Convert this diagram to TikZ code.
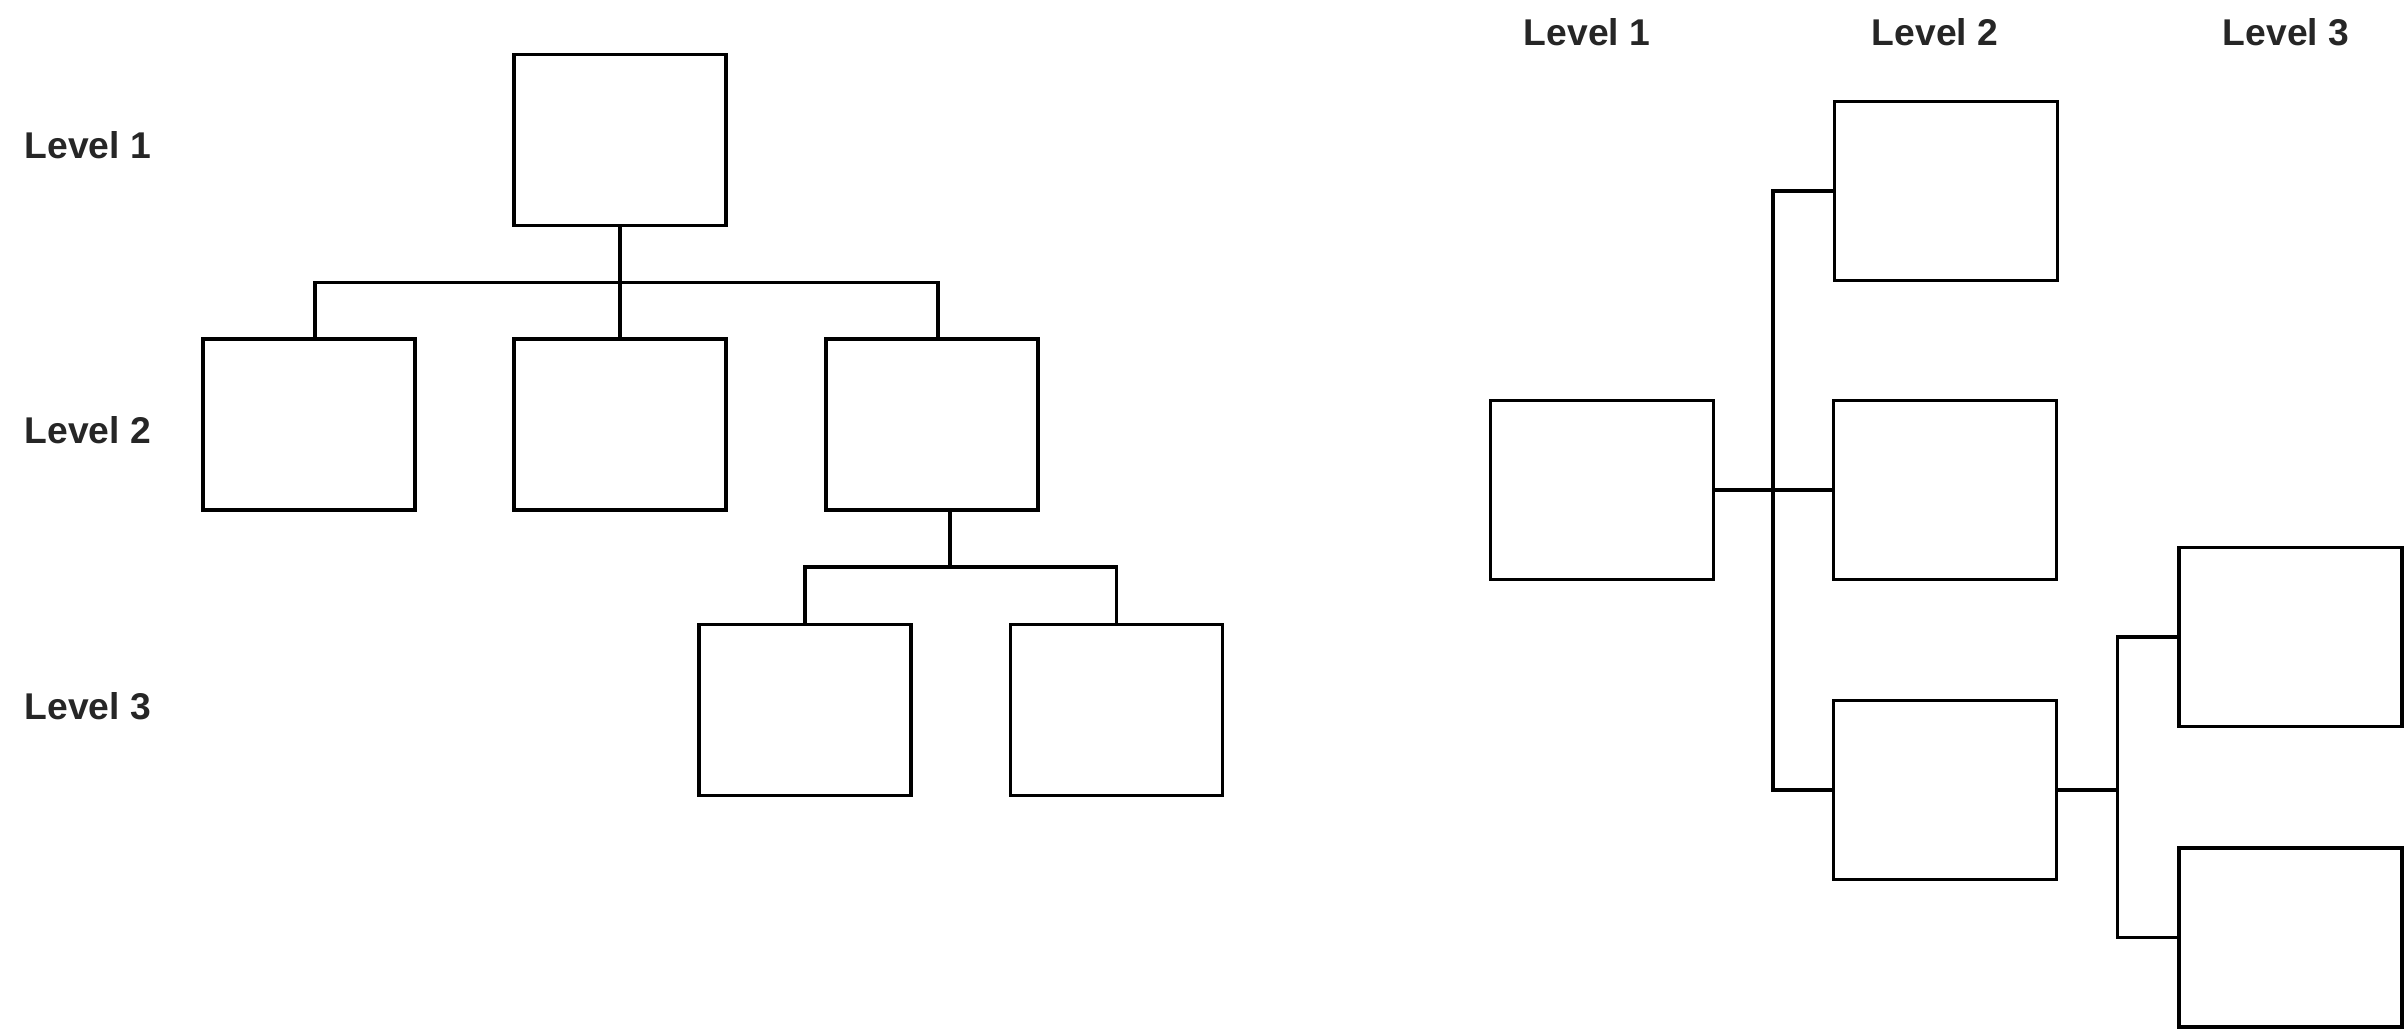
\documentclass[tikz,border=0pt]{standalone}
\usepackage{fontspec}
\setmainfont{Liberation Sans}
\begin{document}
\begin{tikzpicture}[
    box/.style={draw, line width=0.9pt, inner sep=0pt, outer sep=0pt, minimum width=2.12cm, minimum height=1.71cm},
    wbox/.style={box, minimum width=2.23cm, minimum height=1.79cm},
    lvl/.style={font=\fontsize{10.6}{13}\selectfont\bfseries, text=black!85, inner sep=0pt},
    link/.style={line width=0.9pt}
  ]
        \useasboundingbox (0,0) rectangle (24.05,-10.29);

        % vertical chart
        \node[lvl, anchor=west] (va) at (0.24,-1.45) {Level 1};
        \node[lvl, anchor=west] (vb) at (0.24,-4.30) {Level 2};
        \node[lvl, anchor=west] (vc) at (0.24,-7.06) {Level 3};

        \node[box] (top) at (6.20,-1.40) {};
        \node[box] (ma) at (3.09,-4.245) {};
        \node[box] (mb) at (6.20,-4.245) {};
        \node[box] (mc) at (9.32,-4.245) {};
        \node[box] (ba) at (8.05,-7.10) {};
        \node[box] (bb) at (11.165,-7.10) {};

        \draw[link] (top.south) -- +(0,-0.57) -| ([xshift=0.06cm]ma.north);
        \draw[link] (top.south) -- (mb.north);
        \draw[link] (top.south) -- +(0,-0.57) -| ([xshift=0.06cm]mc.north);
        \draw[link] ([xshift=0.18cm]mc.south) -- +(0,-0.57) -| (ba.north);
        \draw[link] ([xshift=0.18cm]mc.south) -- +(0,-0.57) -| (bb.north);

        % horizontal chart
        \node[lvl] (ha) at (15.87,-0.32) {Level 1};
        \node[lvl] (hb) at (19.35,-0.32) {Level 2};
        \node[lvl] (hc) at (22.86,-0.32) {Level 3};

        \node[wbox] (root) at (16.02,-4.90) {};
        \node[wbox] (ka) at (19.46,-1.91) {};
        \node[wbox] (kb) at (19.45,-4.90) {};
        \node[wbox] (kc) at (19.45,-7.90) {};
        \node[wbox] (ea) at (22.905,-6.37) {};
        \node[wbox] (eb) at (22.905,-9.375) {};

        \draw[link] (root.east) -- +(0.595,0) |- (ka.west);
        \draw[link] (root.east) -- (kb.west);
        \draw[link] (root.east) -- +(0.595,0) |- (kc.west);
        \draw[link] (kc.east) -- +(0.61,0) |- (ea.west);
        \draw[link] (kc.east) -- +(0.61,0) |- (eb.west);
      \end{tikzpicture}
\end{document}
